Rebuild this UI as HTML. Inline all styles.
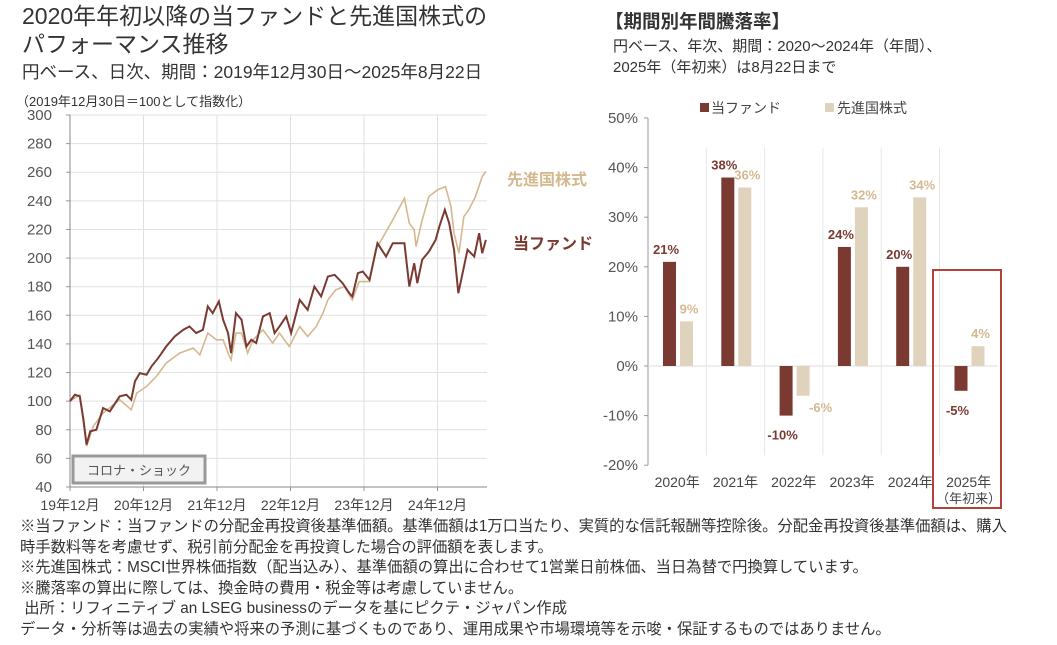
<!DOCTYPE html>
<html><head><meta charset="utf-8">
<style>
body{margin:0;background:#fff;width:1057px;height:645px;overflow:hidden;font-family:"Liberation Sans","Noto Sans CJK JP",sans-serif;color:#333}
.t{position:absolute;white-space:nowrap}
</style></head><body>
<div class="t" style="left:22px;top:2px;font-size:23px;line-height:28px;color:#333">2020年年初以降の当ファンドと先進国株式の<br>パフォーマンス推移</div>
<div class="t" style="left:22px;top:59px;font-size:17.5px">円ベース、日次、期間：2019年12月30日～2025年8月22日</div>
<div class="t" style="left:16px;top:91px;font-size:13px">（2019年12月30日＝100として指数化）</div>
<div class="t" style="left:605px;top:8px;font-size:18.5px;font-weight:bold">【期間別年間騰落率】</div>
<div class="t" style="left:613px;top:36px;font-size:15px;line-height:21px">円ベース、年次、期間：2020～2024年（年間）、<br>2025年（年初来）は8月22日まで</div>
<div class="t" style="left:20px;top:517px;font-size:15.3px;line-height:20.5px">※当ファンド：当ファンドの分配金再投資後基準価額。基準価額は1万口当たり、実質的な信託報酬等控除後。分配金再投資後基準価額は、購入<br>時手数料等を考慮せず、税引前分配金を再投資した場合の評価額を表します。<br>※先進国株式：MSCI世界株価指数（配当込み）、基準価額の算出に合わせて1営業日前株価、当日為替で円換算しています。<br>※騰落率の算出に際しては、換金時の費用・税金等は考慮していません。<br>&nbsp;出所：リフィニティブ an LSEG businessのデータを基にピクテ・ジャパン作成<br>データ・分析等は過去の実績や将来の予測に基づくものであり、運用成果や市場環境等を示唆・保証するものではありません。</div>
<svg id="svg" width="1057" height="645" style="position:absolute;left:0;top:0" font-family="Liberation Sans, Noto Sans CJK JP, sans-serif"></svg>
<script>
// line chart data (months since Dec 2019)
const fundMonths=[0,0.8,1.6,2.2,2.7,3.3,4.3,5.4,6.5,8.1,9.2,10.0,10.6,11.4,12.5,13.3,14.4,15.7,17.1,18.5,19.5,20.6,21.7,22.5,23.3,24.3,25.0,25.8,26.3,27.1,28.0,28.8,29.6,30.4,31.5,32.6,33.4,34.2,35.3,36.1,37.5,38.8,39.9,41.0,42.1,43.2,44.5,45.6,46.1,47.0,47.8,48.9,50.2,51.6,52.7,54.6,55.4,56.2,56.7,57.5,58.6,59.7,60.3,61.2,61.9,62.7,63.4,64.1,64.9,66.0,66.8,67.3,67.9];
const fundValues=[100,104.5,103.3,87,69.6,78.9,80,95.2,92.8,103.3,104.5,101,113.8,119.6,118.5,124.3,130.1,138.2,145.2,149.9,152.2,147.6,149.9,166.2,161.5,169.7,156.9,147.6,133.6,161.5,156.9,138.2,142.9,140.6,159.2,161.5,147.6,152.2,159.2,147.6,170.8,163.8,180.1,173.2,187.1,188.3,182.5,175.5,173.2,189.5,190.6,184.8,210.4,201.1,210.4,210.4,180.1,196.4,182.5,198.8,204.6,212.7,222,233.7,224.4,205.8,175.5,189.5,205.8,201.1,217.4,203.4,212.7];
const stockMonths=[0,1.6,2.7,3.8,5.4,8.1,10.0,10.9,12.5,14.1,15.7,17.9,20.1,21.2,22.5,23.9,25.0,25.8,26.3,27.1,28.0,29.0,29.9,31.5,33.1,34.2,35.8,37.5,38.8,40.2,41.3,42.1,43.4,44.8,46.1,47.2,48.9,49.9,51.0,52.7,54.6,55.4,56.2,56.5,57.5,58.6,60.0,61.3,62.2,62.7,63.5,64.3,65.1,66.2,67.3,67.9];
const stockValues=[100,104.5,68.4,82.4,91.7,101,94,105.6,110.3,117.3,126.6,133.6,137.1,132.4,147.6,142.9,142.9,133.6,128.9,147.6,147.6,133.6,142.9,149.9,140.6,147.6,138.2,152.2,145.2,152.2,161.5,170.8,177.8,180.1,170.8,183.6,183.6,205.8,213.9,226.7,241.8,224.4,219.7,208.1,226.7,243,247.7,250,236,217.4,203.4,229,233.7,243,257,260.5];
const yTicks=[40,60,80,100,120,140,160,180,200,220,240,260,280,300];
const xTickLabels=["19年12月","20年12月","21年12月","22年12月","23年12月","24年12月"];
// bar chart data
const barCategories=["2020年","2021年","2022年","2023年","2024年","2025年"];
const fundReturns=[21,38,-10,24,20,-5];
const stockReturns=[9,36,-6,32,34,4];
const barTicks=[-20,-10,0,10,20,30,40,50];

const svg=document.getElementById('svg');
const NS='http://www.w3.org/2000/svg';
function mk(tag,attrs,parent){const e=document.createElementNS(NS,tag);for(const k in attrs)e.setAttribute(k,attrs[k]);(parent||svg).appendChild(e);return e;}

const X0=70,Y0=487,Y1=115;
const lx=m=>X0+m*(73.5/12);
const ly=v=>Y0-(v-40)*(Y0-Y1)/260;
yTicks.forEach(v=>{
  const g=mk('line',{x1:X0,x2:487,y1:ly(v),y2:ly(v),stroke:'#e0e0e0','stroke-width':1});
  
  const tk=mk('line',{x1:X0-4,x2:X0,y1:ly(v),y2:ly(v),stroke:'#999'});
  
  const t=mk('text',{x:52,y:ly(v)+5,'text-anchor':'end','font-size':15,fill:'#555'});t.textContent=v;
  
});
xTickLabels.forEach((s,i)=>{
  const x=lx(i*12);
  if(i>0){const g=mk('line',{x1:x,x2:x,y1:Y1,y2:Y0,stroke:'#e0e0e0'});}
  const tk=mk('line',{x1:x,x2:x,y1:Y0,y2:Y0+4,stroke:'#999'});
  const t=mk('text',{x:x,y:510,'text-anchor':'middle','font-size':14,fill:'#444'});t.textContent=s;
  
});
const ya=mk('line',{x1:X0,x2:X0,y1:Y1,y2:Y0,stroke:'#888'});
const xa=mk('line',{x1:X0,x2:487,y1:Y0,y2:Y0,stroke:'#888'});

const sp=mk('polyline',{points:stockMonths.map((m,i)=>lx(m)+','+ly(stockValues[i])).join(' '),fill:'none',stroke:'#d4b98f','stroke-width':1.6});

const fp=mk('polyline',{points:fundMonths.map((m,i)=>lx(m)+','+ly(fundValues[i])).join(' '),fill:'none',stroke:'#7a3a32','stroke-width':2});

const sl=mk('text',{x:507,y:185,'font-size':16,'font-weight':'bold',fill:'#d4b98f'});sl.textContent='先進国株式';

const fl=mk('text',{x:513,y:249,'font-size':16,'font-weight':'bold',fill:'#7a3a32'});fl.textContent='当ファンド';

const cb=mk('rect',{x:73,y:456,width:132,height:27,fill:'#f2f2f2',stroke:'#999','stroke-width':3});

const ct=mk('text',{x:139,y:475,'text-anchor':'middle','font-size':13,fill:'#555'});ct.textContent='コロナ・ショック';


const BX0=648,BW=58.3;
const by=v=>366-v*4.96;
barTicks.forEach(v=>{
  const t=mk('text',{x:638,y:by(v)+5,'text-anchor':'end','font-size':15,fill:'#555'});t.textContent=v+'%';
  
  const tk=mk('line',{x1:BX0-4,x2:BX0,y1:by(v),y2:by(v),stroke:'#999'});
});
const bya=mk('line',{x1:BX0,x2:BX0,y1:by(50),y2:by(-20),stroke:'#999'});
const z=mk('line',{x1:BX0,x2:BX0+6*BW,y1:by(0),y2:by(0),stroke:'#ddd'});
barCategories.forEach((c,i)=>{
  const x=BX0+i*BW;
  if(i>0){const s=mk('line',{x1:x,x2:x,y1:by(44),y2:by(-18),stroke:'#e6e6e6'});}
  const t=mk('text',{x:x+BW/2,y:487,'text-anchor':'middle','font-size':14,fill:'#444'});t.textContent=c;
  
  [[fundReturns[i],x+15,'#7a3a32'],[stockReturns[i],x+32,'#e0d3bd']].forEach(([v,bx,col],j)=>{
    const r=mk('rect',{x:bx,y:Math.min(by(v),by(0)),width:13,height:Math.abs(by(v)-by(0)),fill:col});
    
    const ty=v>=0?by(v)-8:by(v)+(j?16:24);
    const tx=j&&v<0?bx+24:bx+(j?9:3);
    const l=mk('text',{x:tx,y:ty,'text-anchor':'middle','font-size':13,'font-weight':'bold',fill:j?'#d4b98f':'#7a3a32'});l.textContent=v+'%';
    
  });
});
const sub=mk('text',{x:BX0+5.5*BW,y:503,'text-anchor':'middle','font-size':13,fill:'#444'});sub.textContent='（年初来）';

const hb=mk('rect',{x:933,y:270,width:68,height:238,fill:'none',stroke:'#b5413a','stroke-width':2});

const l1=mk('rect',{x:700,y:103,width:9,height:9,fill:'#7a3a32'});
const l1t=mk('text',{x:711,y:113,'font-size':14,fill:'#444'});l1t.textContent='当ファンド';
const l2=mk('rect',{x:825,y:103,width:9,height:9,fill:'#e0d3bd'});
const l2t=mk('text',{x:837,y:113,'font-size':14,fill:'#444'});l2t.textContent='先進国株式';
</script>
</body></html>
